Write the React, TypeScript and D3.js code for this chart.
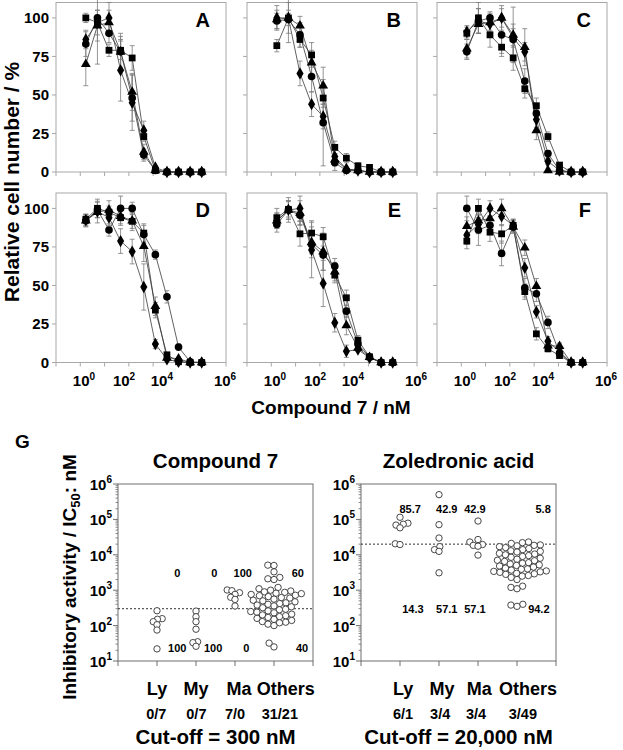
import React, { useEffect, useRef } from "react";
import * as d3 from "d3";

// ---------------- Panels A–F : relative cell number (%) vs Compound 7 (nM) ----------------
const concentrations = [1.69, 5.08, 15.2, 45.7, 137, 412, 1235, 3704, 11111, 33333, 100000];
const panelLetters = ["A", "B", "C", "D", "E", "F"];
const yTickValues = [0, 25, 50, 75, 100];
const xTickExponents = [-1, 0, 1, 2, 3, 4, 5, 6];
const xTickLabelExponents = [0, 2, 4, 6];
// where the original figure printed its decade labels (log10 units)
const xTickLabelAt = [0.15, 1.8, 3.36, 5.96];

const aCircle = [83, 100, 90, 78, 48, 11, 1, 0, 0, 0, 0];
const aTriangle = [70, 95, 97, 78, 52, 13, 1, 0, 0, 0, 0];
const aDiamond = [86, 97, 100, 66, 45, 27, 3, 0, 0, 0, 0];
const aSquare = [100, 97, 79, 79, 74, 23, 1, 0, 0, 0, 0];
const aCircleErr = [8, 30, 6, 12, 15, 4, 1, 0, 0, 0, 0];
const aTriangleErr = [14, 10, 8, 10, 12, 5, 1, 0, 0, 0, 0];
const aDiamondErr = [6, 8, 10, 20, 18, 6, 1, 0, 0, 0, 0];
const aSquareErr = [3, 3, 4, 6, 8, 3, 1, 0, 0, 0, 0];

const bCircle = [98, 99, 89, 62, 32, 6, 1, 1, 0, 0, 0];
const bTriangle = [99, 100, 95, 71, 56, 8, 2, 1, 0, 0, 0];
const bDiamond = [100, 100, 64, 44, 36, 10, 2, 1, 0, 0, 0];
const bSquare = [82, 100, 86, 76, 48, 16, 9, 4, 3, 0, 0];
const bCircleErr = [5, 15, 8, 10, 28, 5, 1, 1, 0, 0, 0];
const bTriangleErr = [6, 5, 6, 8, 12, 4, 1, 1, 0, 0, 0];
const bDiamondErr = [8, 10, 8, 8, 8, 4, 1, 0, 0, 0, 0];
const bSquareErr = [4, 3, 5, 8, 6, 4, 3, 2, 1, 0, 0];

const cCircle = [78, 98, 100, 89, 86, 59, 38, 12, 1, 0, 0];
const cTriangle = [80, 96, 97, 100, 89, 81, 27, 1, 0, 0, 0];
const cDiamond = [91, 98, 96, 100, 87, 78, 34, 7, 1, 0, 0];
const cSquare = [90, 100, 89, 81, 74, 54, 43, 23, 4.5, 0, 0];
const cCircleErr = [5, 8, 4, 12, 10, 8, 5, 2, 0, 0, 0];
const cTriangleErr = [6, 6, 6, 6, 18, 12, 6, 1, 0, 0, 0];
const cDiamondErr = [4, 8, 4, 8, 6, 6, 5, 2, 0, 0, 0];
const cSquareErr = [4, 10, 8, 6, 8, 6, 5, 3, 1, 0, 0];

const dCircle = [92, 99, 86, 100, 100, 83, 70, 42.6, 10, 0.5, 0];
const dTriangle = [92, 97.6, 99, 95, 92, 75.5, 36.5, 3, 2.5, 0, 0];
const dDiamond = [92.4, 98, 94, 78.8, 72, 49, 12, 2, 0.5, 0, 0];
const dSquare = [93, 100, 97.5, 94, 91.6, 84, 34, 5, 0.5, 0, 0];
const dCircleErr = [3, 5, 4, 8, 4, 6, 3, 4, 2, 0, 0];
const dTriangleErr = [4, 7, 6, 5, 5, 10, 6, 1, 1, 0, 0];
const dDiamondErr = [4, 4, 5, 8, 8, 15, 3, 1, 0, 0, 0];
const dSquareErr = [3, 6, 4, 5, 6, 6, 5, 1, 0, 0, 0];

const eCircle = [89.6, 99, 95.5, 76.6, 69.7, 62.5, 33.3, 12, 3.5, 0, 0];
const eTriangle = [92, 99, 97, 78, 72, 59, 24, 9.5, 3.5, 0, 0];
const eDiamond = [92, 99, 100, 73, 51.3, 25.8, 7.3, 8.4, 3, 0, 0];
const eSquare = [94, 99.4, 83.5, 84, 81.6, 56.7, 42, 14.5, 3.7, 0, 0];
const eCircleErr = [5, 8, 6, 6, 10, 5, 4, 2, 1, 0, 0];
const eTriangleErr = [5, 6, 8, 10, 12, 6, 6, 2, 1, 0, 0];
const eDiamondErr = [5, 6, 8, 18, 15, 6, 4, 1, 1, 0, 0];
const eSquareErr = [6, 5, 8, 8, 6, 5, 5, 3, 1, 0, 0];

const fCircle = [100, 86, 89, 70.8, 88, 48.5, 44.6, 26, 6, 0, 0];
const fTriangle = [88.5, 92, 93.5, 100, 88, 74.5, 49.5, 11, 10.6, 0, 0];
const fDiamond = [82.7, 89.6, 100, 94.8, 89, 61.5, 32.9, 13.8, 7, 0, 0];
const fSquare = [78.8, 100, 84.6, 83.5, 89, 46, 18.6, 8.9, 4.5, 0, 0];
const fCircleErr = [8, 10, 6, 8, 4, 6, 5, 4, 2, 0, 0];
const fTriangleErr = [6, 5, 6, 6, 4, 5, 5, 3, 2, 0, 0];
const fDiamondErr = [6, 6, 5, 6, 4, 6, 4, 3, 2, 0, 0];
const fSquareErr = [5, 6, 6, 6, 4, 5, 4, 2, 1, 0, 0];

// ---------------- Panel G : IC50 per cell-line group ----------------
const groupNames = ["Ly", "My", "Ma", "Others"];

const c7Ly = [263, 157, 151, 129, 106, 75, 22];
const c7My = [257, 178, 129, 79, 35, 33, 26];
const c7Ma = [1014, 968, 851, 762, 631, 550, 358];
const c7Others = [
  5100, 5000, 3300, 2300, 2100, 2000, 1200, 1100, 1000, 950, 900, 870, 820, 800, 760, 720,
  700, 660, 620, 600, 560, 520, 500, 470, 440, 420, 400, 380, 360, 340, 320,
  290, 280, 260, 250, 240, 230, 210, 200, 190, 180, 170, 160, 150, 140, 130, 125, 120, 110,
  100, 32, 25,
];
const c7Fractions = ["0/7", "0/7", "7/0", "31/21"];
const c7PctAbove = ["0", "0", "100", "60"];
const c7PctBelow = ["100", "100", "0", "40"];
const c7Cutoff = 300;

const zolLy = [115000, 78000, 73000, 69000, 58000, 20500, 19500];
const zolMy = [500000, 71000, 29800, 17000, 14000, 12500, 3100];
const zolMa = [90000, 27000, 23000, 19500, 18500, 17500, 9800];
const zolOthers = [
  23000, 22000, 21000,
  19000, 18500, 18000, 17000, 16000, 15000, 14000, 13000, 12500, 12000, 11000, 10500, 10000,
  9500, 9000, 8500, 8000, 7500, 7000, 6800, 6500, 6000, 5800, 5500, 5200, 5000, 4800, 4500,
  4200, 4000, 3900, 3700, 3500, 3400, 3300, 3200, 3000, 2900, 2800, 2600, 2500, 2300, 2000,
  1300, 1200, 1100, 400, 380, 350,
];
const zolFractions = ["6/1", "3/4", "3/4", "3/49"];
const zolPctAbove = ["85.7", "42.9", "42.9", "5.8"];
const zolPctBelow = ["14.3", "57.1", "57.1", "94.2"];
const zolCutoff = 20000;

const yLogTicks = [10, 100, 1000, 10000, 100000, 1000000];

// ---------------- layout ----------------
const FONT = "'Liberation Sans', Arial, Helvetica, sans-serif";
const PANEL_W = 170;
const PANEL_H = 169.5;
const COL_X = [56, 247, 437];
const ROW_Y = [2.5, 193];

const G_W = 195;
const G_TOP = 484;
const G_BOTTOM = 661;
const G_X = [118, 361];

const leftLayout = {
  catLabelAt: [1, 2, 3.1, 4.3],
  fracAt: [0.98, 2.01, 3.0, 4.15],
  pctAboveAt: [1.52, 2.47, 3.2, 4.61],
  pctBelowAt: [1.52, 2.44, 3.29, 4.72],
  pctAboveY: 3060,
  pctBelowY: 23,
};
const rightLayout = {
  catLabelAt: [1.08, 2.08, 3.03, 4.28],
  fracAt: [1.08, 2.03, 2.95, 4.15],
  pctAboveAt: [1.26, 2.2, 2.92, 4.67],
  pctBelowAt: [1.33, 2.2, 2.92, 4.56],
  pctAboveY: 195000,
  pctBelowY: 295,
};

function beeswarm(ys: number[], d: number): number[] {
  const order = ys.map((_, i) => i).sort((a, b) => ys[b] - ys[a]);
  const placed: { x: number; y: number }[] = [];
  const xs = new Array(ys.length).fill(0);
  for (const i of order) {
    const y = ys[i];
    const blocks: [number, number][] = [];
    for (const p of placed) {
      const dy = Math.abs(p.y - y);
      if (dy < d) {
        const w = Math.sqrt(d * d - dy * dy);
        blocks.push([p.x - w, p.x + w]);
      }
    }
    const cands = [0];
    blocks.forEach((b) => cands.push(b[0], b[1]));
    cands.sort((a, b) => Math.abs(a) - Math.abs(b) || a - b);
    let best = 0;
    for (const c of cands) {
      if (blocks.every((b) => c <= b[0] + 1e-6 || c >= b[1] - 1e-6)) {
        best = c;
        break;
      }
    }
    xs[i] = best;
    placed.push({ x: best, y });
  }
  return xs;
}

function draw(svgEl: SVGSVGElement) {
  const svg = d3.select(svgEl);
  svg.selectAll("*").remove();

  const panels = [
    { c: aCircle, t: aTriangle, d: aDiamond, s: aSquare, ce: aCircleErr, te: aTriangleErr, de: aDiamondErr, se: aSquareErr },
    { c: bCircle, t: bTriangle, d: bDiamond, s: bSquare, ce: bCircleErr, te: bTriangleErr, de: bDiamondErr, se: bSquareErr },
    { c: cCircle, t: cTriangle, d: cDiamond, s: cSquare, ce: cCircleErr, te: cTriangleErr, de: cDiamondErr, se: cSquareErr },
    { c: dCircle, t: dTriangle, d: dDiamond, s: dSquare, ce: dCircleErr, te: dTriangleErr, de: dDiamondErr, se: dSquareErr },
    { c: eCircle, t: eTriangle, d: eDiamond, s: eSquare, ce: eCircleErr, te: eTriangleErr, de: eDiamondErr, se: eSquareErr },
    { c: fCircle, t: fTriangle, d: fDiamond, s: fSquare, ce: fCircleErr, te: fTriangleErr, de: fDiamondErr, se: fSquareErr },
  ];

  const frameColor = "#a8a8a8";

  panels.forEach((p, i) => {
    const col = i % 3;
    const row = Math.floor(i / 3);
    const x0 = COL_X[col];
    const y0 = ROW_Y[row];
    const x = d3.scaleLog().domain([0.1, 1e6]).range([x0, x0 + PANEL_W]);
    const y = d3.scaleLinear().domain([0, 110]).range([y0 + PANEL_H, y0]);
    const g = svg.append("g");

    g.append("rect")
      .attr("x", x0).attr("y", y0).attr("width", PANEL_W).attr("height", PANEL_H)
      .attr("fill", "none").attr("stroke", frameColor).attr("stroke-width", 1);

    yTickValues.forEach((t) => {
      g.append("line").attr("x1", x0 - 4).attr("x2", x0).attr("y1", y(t)).attr("y2", y(t))
        .attr("stroke", frameColor);
      if (col === 0) {
        g.append("text").attr("x", x0 - 7).attr("y", y(t)).attr("dy", "0.36em")
          .attr("text-anchor", "end").attr("font-family", FONT).attr("font-weight", "bold")
          .attr("font-size", 15).text(String(t));
      }
    });
    xTickExponents.forEach((e) => {
      g.append("line").attr("x1", x(Math.pow(10, e))).attr("x2", x(Math.pow(10, e)))
        .attr("y1", y0 + PANEL_H).attr("y2", y0 + PANEL_H + 4).attr("stroke", frameColor);
    });
    if (row === 1) {
      xTickLabelExponents.forEach((e, k) => {
        const t = g.append("text").attr("x", x(Math.pow(10, xTickLabelAt[k]))).attr("y", 386)
          .attr("text-anchor", "middle").attr("font-family", FONT).attr("font-weight", "bold")
          .attr("font-size", 15);
        t.append("tspan").text("10");
        t.append("tspan").attr("dy", -6).attr("font-size", 10).text(String(e));
      });
    }

    g.append("text").attr("x", x0 + PANEL_W - 16).attr("y", y0 + 24)
      .attr("text-anchor", "end").attr("font-family", FONT).attr("font-weight", "bold")
      .attr("font-size", 20).text(panelLetters[i]);

    const series = [
      { v: p.c, e: p.ce, sym: d3.symbolCircle, size: 46 },
      { v: p.t, e: p.te, sym: d3.symbolTriangle, size: 42 },
      { v: p.d, e: p.de, sym: d3.symbolDiamond, size: 44 },
      { v: p.s, e: p.se, sym: d3.symbolSquare, size: 46 },
    ];
    const line = d3.line<number>().x((_, k) => x(concentrations[k])).y((v) => y(v));
    series.forEach((s) => {
      g.append("path").attr("d", line(s.v) as string).attr("fill", "none")
        .attr("stroke", "#3a3a3a").attr("stroke-width", 0.8);
    });
    series.forEach((s) => {
      s.v.forEach((v, k) => {
        const err = s.e[k];
        if (err <= 0) return;
        const cx = x(concentrations[k]);
        const lo = y(Math.max(0, v - err));
        const hi = y(v + err);
        g.append("line").attr("x1", cx).attr("x2", cx).attr("y1", lo).attr("y2", hi)
          .attr("stroke", "#7a7a7a").attr("stroke-width", 0.8);
        [lo, hi].forEach((yy) => {
          g.append("line").attr("x1", cx - 2.5).attr("x2", cx + 2.5).attr("y1", yy).attr("y2", yy)
            .attr("stroke", "#7a7a7a").attr("stroke-width", 0.8);
        });
      });
    });
    series.forEach((s) => {
      const sym = d3.symbol().type(s.sym).size(s.size);
      s.v.forEach((v, k) => {
        g.append("path").attr("d", sym() as string)
          .attr("transform", `translate(${x(concentrations[k])},${y(v)})`)
          .attr("fill", "#000");
      });
    });
  });

  // axis titles for A–F
  svg.append("text").attr("transform", "translate(19,182) rotate(-90)")
    .attr("text-anchor", "middle").attr("font-family", FONT).attr("font-weight", "bold")
    .attr("font-size", 21).text("Relative cell number / %");
  svg.append("text").attr("x", 331).attr("y", 414)
    .attr("text-anchor", "middle").attr("font-family", FONT).attr("font-weight", "bold")
    .attr("font-size", 19).text("Compound 7 / nM");

  // ---------------- G ----------------
  svg.append("text").attr("x", 15).attr("y", 448).attr("font-family", FONT)
    .attr("font-weight", "bold").attr("font-size", 19).text("G");

  const yt = svg.append("text").attr("transform", "translate(76,577) rotate(-90)")
    .attr("text-anchor", "middle").attr("font-family", FONT).attr("font-weight", "bold")
    .attr("font-size", 19);
  yt.append("tspan").text("Inhibitory activity / IC");
  yt.append("tspan").attr("dy", 4).attr("font-size", 13).text("50");
  yt.append("tspan").attr("dy", -4).text(": nM");

  const gPlots = [
    { title: "Compound 7", groups: [c7Ly, c7My, c7Ma, c7Others], cutoff: c7Cutoff, fr: c7Fractions,
      above: c7PctAbove, below: c7PctBelow, lay: leftLayout, cut: "Cut-off = 300 nM" },
    { title: "Zoledronic acid", groups: [zolLy, zolMy, zolMa, zolOthers], cutoff: zolCutoff, fr: zolFractions,
      above: zolPctAbove, below: zolPctBelow, lay: rightLayout, cut: "Cut-off = 20,000 nM" },
  ];
  const gFrame = "#6e6e6e";

  gPlots.forEach((gp, gi) => {
    const x0 = G_X[gi];
    const x = d3.scaleLinear().domain([0, 5]).range([x0, x0 + G_W]);
    const y = d3.scaleLog().domain([10, 1e6]).range([G_BOTTOM, G_TOP]);
    const g = svg.append("g");
    const cx = (x0 + x0 + G_W) / 2;

    g.append("text").attr("x", cx).attr("y", 468).attr("text-anchor", "middle")
      .attr("font-family", FONT).attr("font-weight", "bold").attr("font-size", 20.5).text(gp.title);

    g.append("rect").attr("x", x0).attr("y", G_TOP).attr("width", G_W).attr("height", G_BOTTOM - G_TOP)
      .attr("fill", "none").attr("stroke", gFrame).attr("stroke-width", 1);

    // y ticks (major and minor)
    yLogTicks.forEach((t, k) => {
      g.append("line").attr("x1", x0 - 5).attr("x2", x0).attr("y1", y(t)).attr("y2", y(t))
        .attr("stroke", gFrame);
      const lab = g.append("text").attr("x", x0 - 6).attr("y", y(t) + 6).attr("text-anchor", "end")
        .attr("font-family", FONT).attr("font-weight", "bold").attr("font-size", 15);
      lab.append("tspan").text("10");
      lab.append("tspan").attr("dy", -7).attr("font-size", 10).text(String(k + 1));
      if (t < 1e6) {
        for (let m = 2; m <= 9; m++) {
          g.append("line").attr("x1", x0 - 2.5).attr("x2", x0).attr("y1", y(t * m)).attr("y2", y(t * m))
            .attr("stroke", gFrame).attr("stroke-width", 0.8);
        }
      }
    });
    // x ticks
    d3.range(0, 6).forEach((k) => {
      g.append("line").attr("x1", x(k)).attr("x2", x(k)).attr("y1", G_BOTTOM).attr("y2", G_BOTTOM + 5)
        .attr("stroke", gFrame);
    });

    // cut-off line
    g.append("line").attr("x1", x0).attr("x2", x0 + G_W).attr("y1", y(gp.cutoff)).attr("y2", y(gp.cutoff))
      .attr("stroke", "#333").attr("stroke-width", 1).attr("stroke-dasharray", "2,2");

    // dots
    gp.groups.forEach((vals, k) => {
      const ys = vals.map((v) => y(v));
      const offs = beeswarm(ys, k === 3 ? 6.2 : 4.8);
      ys.forEach((yy, j) => {
        g.append("circle").attr("cx", x(k + 1) + offs[j]).attr("cy", yy).attr("r", 3.2)
          .attr("fill", "#fff").attr("stroke", "#333").attr("stroke-width", 0.9);
      });
    });

    // percentages
    gp.above.forEach((s, k) => {
      g.append("text").attr("x", x(gp.lay.pctAboveAt[k])).attr("y", y(gp.lay.pctAboveY)).attr("dy", "0.35em")
        .attr("text-anchor", "middle").attr("font-family", FONT).attr("font-weight", "bold")
        .attr("font-size", 11).text(s);
    });
    gp.below.forEach((s, k) => {
      g.append("text").attr("x", x(gp.lay.pctBelowAt[k])).attr("y", y(gp.lay.pctBelowY)).attr("dy", "0.35em")
        .attr("text-anchor", "middle").attr("font-family", FONT).attr("font-weight", "bold")
        .attr("font-size", 11).text(s);
    });

    // category labels & fractions
    groupNames.forEach((n, k) => {
      g.append("text").attr("x", x(gp.lay.catLabelAt[k])).attr("y", 695).attr("text-anchor", "middle")
        .attr("font-family", FONT).attr("font-weight", "bold").attr("font-size", 18).text(n);
      g.append("text").attr("x", x(gp.lay.fracAt[k])).attr("y", 719).attr("text-anchor", "middle")
        .attr("font-family", FONT).attr("font-weight", "bold").attr("font-size", 14.5).text(gp.fr[k]);
    });
    g.append("text").attr("x", cx).attr("y", 744).attr("text-anchor", "middle")
      .attr("font-family", FONT).attr("font-weight", "bold").attr("font-size", 20.5).text(gp.cut);
  });
}

export default function App() {
  const ref = useRef<SVGSVGElement>(null);
  useEffect(() => {
    if (ref.current) draw(ref.current);
  }, []);
  return (
    <svg
      ref={ref}
      width={623}
      height={750}
      style={{ position: "absolute", left: 0, top: 0, background: "#fff" }}
    />
  );
}
